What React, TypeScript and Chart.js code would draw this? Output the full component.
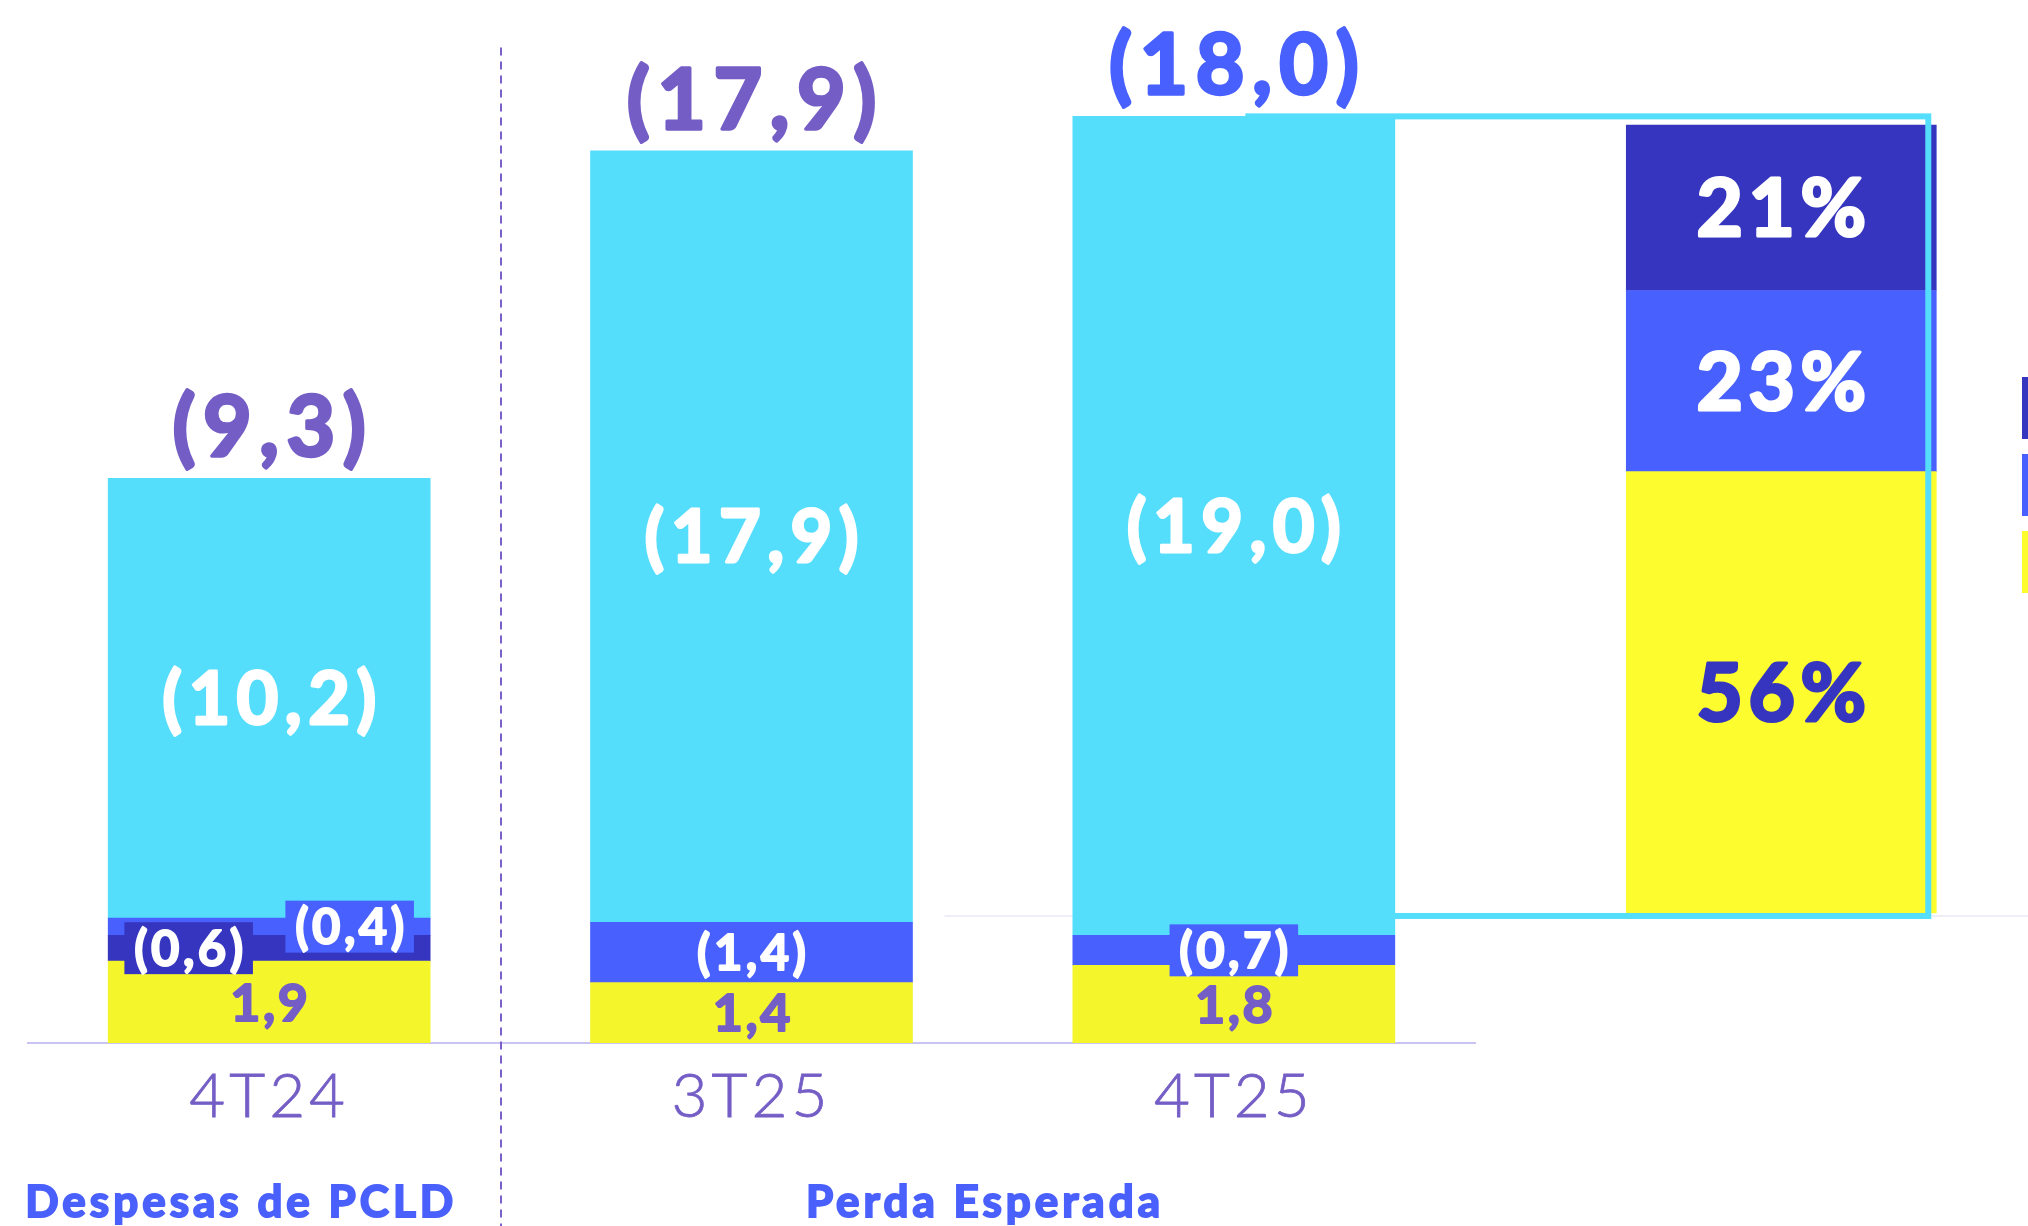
import React, { useEffect, useRef } from 'react';
import { Chart, registerables } from 'chart.js';

Chart.register(...registerables);

// ---------------- data ----------------
const categories = ['4T24', '3T25', '4T25'];
const yellowValues: (number | null)[] = [1.9, 1.4, 1.8];
const darkBlueValues: (number | null)[] = [-0.6, null, null];
const blueValues: (number | null)[] = [-0.4, -1.4, -0.7];
const cyanValues: (number | null)[] = [-10.2, -17.9, -19.0];
const totalValues = [-9.3, -17.9, -18.0];
const groupLabels = ['Despesas de PCLD', 'Perda Esperada'];
const mixSegments = ['yellow', 'blue', 'dark'];
const mixValues = [56, 23, 21];

// ---------------- layout / style config ----------------
const W = 2028;
const H = 1226;
const groupCenters = [-0.058, 1.484];
const mixPosition = 3.135;
const dividerPosition = 0.48;
const dividerTop = 23.1;
const faintLineStart = 1.4;
const CAP = 0.7165;
const LABEL_WEIGHT = 700;

const COLORS = {
  cyan: '#55DDFC',
  blue: '#4860FE',
  dark: '#3535BF',
  yellow: '#F5F52B',
  yellowMix: '#FCFC2F',
  purple: '#745EC6',
  groupBlue: '#4A60FC',
  axis: '#C8C4F4',
  faint: '#EFEEF8',
  divider: '#7A60C9',
  white: '#FFFFFF',
};
const totalColors = [COLORS.purple, COLORS.purple, COLORS.blue];

const mainDefs = [
  { id: 'yellow', values: yellowValues, color: COLORS.yellow, text: COLORS.purple, size: 52, spacing: 0.05 },
  { id: 'dark', values: darkBlueValues, color: COLORS.dark, text: COLORS.white, size: 49, spacing: 0.07 },
  { id: 'blue', values: blueValues, color: COLORS.blue, text: COLORS.white, size: 49, spacing: 0.07 },
  { id: 'cyan', values: cyanValues, color: COLORS.cyan, text: COLORS.white, size: 72, spacing: 0.09 },
];
const mixStyle: Record<string, { color: string; text: string }> = {
  yellow: { color: COLORS.yellowMix, text: COLORS.dark },
  blue: { color: COLORS.blue, text: COLORS.white },
  dark: { color: COLORS.dark, text: COLORS.white },
};

const fmt = (v: number) => {
  const s = Math.abs(v).toFixed(1).replace('.', ',');
  return v < 0 ? `(${s})` : s;
};

function setFont(ctx: CanvasRenderingContext2D, size: number, spacing: number) {
  const ls = size * spacing;
  ctx.font = `${LABEL_WEIGHT} ${size}px Lato`;
  (ctx as any).letterSpacing = `${ls}px`;
  return ls;
}

function drawLabel(ctx: CanvasRenderingContext2D, text: string, cx: number, cy: number, size: number, color: string, spacing: number) {
  ctx.save();
  const ls = setFont(ctx, size, spacing);
  ctx.fillStyle = color;
  ctx.strokeStyle = color;
  ctx.lineWidth = size * 0.04;
  ctx.lineJoin = 'round';
  ctx.textAlign = 'center';
  ctx.textBaseline = 'alphabetic';
  const x = cx + ls / 2;
  const y = cy + (size * CAP) / 2;
  ctx.fillText(text, x, y);
  ctx.strokeText(text, x, y);
  ctx.restore();
}

function textWidth(ctx: CanvasRenderingContext2D, text: string, size: number, spacing: number) {
  ctx.save();
  const ls = setFont(ctx, size, spacing);
  const w = ctx.measureText(text).width - ls + size * 0.04;
  ctx.restore();
  return w;
}

const axisTextPlugin = {
  id: 'axisText',
  beforeDraw(chart: any) {
    (chart.ctx as any).letterSpacing = '4px';
  },
  afterDraw(chart: any) {
    const ctx = chart.ctx as CanvasRenderingContext2D;
    (ctx as any).letterSpacing = '0px';
    // legend swatches (cut by the right edge, as in the reference)
    const legendColors = [COLORS.dark, COLORS.blue, COLORS.yellowMix];
    legendColors.forEach((c, k) => {
      ctx.fillStyle = c;
      ctx.fillRect(2022, 377 + k * 77, 62, 62);
    });
  },
};

const decorPlugin = {
  id: 'decor',
  beforeDatasetsDraw(chart: any) {
    const ctx = chart.ctx as CanvasRenderingContext2D;
    const x = chart.scales.x;
    const y = chart.scales.y;
    const y2 = chart.scales.y2;
    ctx.save();
    (ctx as any).letterSpacing = '0px';
    // faint baseline of the composition bar
    ctx.strokeStyle = COLORS.faint;
    ctx.lineWidth = 2;
    const fy = y2.getPixelForValue(0) + 3;
    ctx.beginPath();
    ctx.moveTo(x.getPixelForValue(faintLineStart), fy);
    ctx.lineTo(chart.width, fy);
    ctx.stroke();
    // dashed divider between groups
    const dx = Math.round(x.getPixelForValue(dividerPosition));
    ctx.strokeStyle = COLORS.divider;
    ctx.lineWidth = 2;
    ctx.setLineDash([8, 6]);
    ctx.beginPath();
    ctx.moveTo(dx, y.getPixelForValue(dividerTop));
    ctx.lineTo(dx, chart.height);
    ctx.stroke();
    ctx.restore();
  },
  afterDatasetsDraw(chart: any) {
    const ctx = chart.ctx as CanvasRenderingContext2D;
    const datasets = chart.data.datasets;
    const y2 = chart.scales.y2;
    const mainIdx = datasets.map((d: any, i: number) => (d.group === 'main' ? i : -1)).filter((i: number) => i >= 0);
    const mixIdx = datasets.map((d: any, i: number) => (d.group === 'mix' ? i : -1)).filter((i: number) => i >= 0);

    // outline linking 4T25 to composition bar
    const cyanMeta = chart.getDatasetMeta(mainIdx[mainIdx.length - 1]);
    const lastBar = cyanMeta.data[cyanMeta.data.length - 1];
    const mixMeta = chart.getDatasetMeta(mixIdx[0]);
    const mixBar = mixMeta.data[0];
    if (lastBar && mixBar) {
      const l = lastBar.x + lastBar.width * 0.045;
      const t = lastBar.y;
      const r = mixBar.x + mixBar.width / 2 - 8;
      const b = y2.getPixelForValue(0) + 3;
      ctx.save();
      ctx.strokeStyle = COLORS.cyan;
      ctx.lineWidth = 6;
      ctx.strokeRect(l, t, r - l, b - t);
      ctx.restore();
    }

    // segment labels
    type Item = { text: string; cx: number; cy: number; size: number; spacing: number; color: string; bg: string; boxed: boolean; idx: number; w: number };
    const items: Item[] = [];
    mainIdx.forEach((di: number) => {
      const ds = datasets[di];
      const meta = chart.getDatasetMeta(di);
      meta.data.forEach((el: any, j: number) => {
        const raw = ds.data[j];
        const h = Math.abs(el.base - el.y);
        const boxH = ds.labelSize * 1.06;
        items.push({
          text: fmt(raw.v),
          cx: el.x,
          cy: (el.y + el.base) / 2,
          size: ds.labelSize,
          spacing: ds.labelSpacing,
          color: ds.labelColor,
          bg: ds.backgroundColor,
          boxed: h < boxH,
          idx: raw.x,
          w: el.width,
        });
      });
    });
    // spread boxed labels that share the same bar
    categories.forEach((_, i) => {
      const boxed = items.filter((it) => it.boxed && it.idx === i);
      if (boxed.length >= 2) {
        boxed.forEach((it, k) => {
          it.cx += (k === 0 ? -1 : 1) * it.w * 0.25;
        });
      }
    });
    items.forEach((it) => {
      if (it.boxed) {
        const tw = textWidth(ctx, it.text, it.size, it.spacing);
        const bw = tw + it.size * 0.36;
        const bh = it.size * 1.06;
        ctx.fillStyle = it.bg;
        ctx.fillRect(it.cx - bw / 2, it.cy - bh / 2, bw, bh);
      }
    });
    items.forEach((it) => drawLabel(ctx, it.text, it.cx, it.cy, it.size, it.color, it.spacing));

    // totals above bars
    categories.forEach((_, i) => {
      const el = cyanMeta.data[i];
      if (!el) return;
      const size = 84;
      drawLabel(ctx, fmt(totalValues[i]), el.x, el.y - 22 - (size * CAP) / 2, size, totalColors[i], 0.09);
    });

    // composition labels
    mixIdx.forEach((di: number) => {
      const ds = datasets[di];
      const el = chart.getDatasetMeta(di).data[0];
      if (!el) return;
      drawLabel(ctx, `${ds.data[0].v}%`, el.x, (el.y + el.base) / 2, 80, ds.labelColor, 0.07);
    });
  },
};

function buildConfig(): any {
  const datasets: any[] = [];
  mainDefs.forEach((d) => {
    datasets.push({
      type: 'bar',
      label: d.id,
      group: 'main',
      data: d.values
        .map((v, i) => (v == null ? null : { x: i, y: Math.abs(v), v }))
        .filter((p) => p !== null),
      backgroundColor: d.color,
      borderWidth: 0,
      barThickness: 322,
      grouped: false,
      stack: 'main',
      xAxisID: 'x',
      yAxisID: 'y',
      labelSize: d.size,
      labelSpacing: d.spacing,
      labelColor: d.text,
    });
  });
  mixSegments.forEach((seg, k) => {
    datasets.push({
      type: 'bar',
      label: 'mix-' + seg,
      group: 'mix',
      data: [{ x: mixPosition, y: mixValues[k], v: mixValues[k] }],
      backgroundColor: mixStyle[seg].color,
      borderWidth: 0,
      barThickness: 310,
      grouped: false,
      stack: 'mix',
      xAxisID: 'x',
      yAxisID: 'y2',
      clip: false,
      labelColor: mixStyle[seg].text,
    });
  });

  return {
    type: 'bar',
    data: { datasets },
    options: {
      responsive: false,
      animation: false,
      devicePixelRatio: 1,
      events: [],
      layout: { padding: { left: 28, right: 553, top: 0, bottom: 0 } },
      plugins: {
        legend: { display: false },
        tooltip: { enabled: false },
        title: { display: false },
      },
      scales: {
        x: {
          type: 'linear',
          position: 'bottom',
          weight: 0,
          min: -0.5,
          max: 2.5,
          offset: false,
          grid: { display: false, drawTicks: false },
          border: { display: true, color: COLORS.axis, width: 2 },
          ticks: {
            autoSkip: false,
            maxRotation: 0,
            minRotation: 0,
            padding: 17,
            color: COLORS.purple,
            font: { family: 'Lato', size: 62, weight: '300' },
            textStrokeColor: COLORS.purple,
            textStrokeWidth: 0.8,
            callback: (_v: any, i: number) => categories[i],
          },
          afterBuildTicks: (axis: any) => {
            axis.ticks = categories.map((_, i) => ({ value: i }));
          },
          afterFit: (axis: any) => {
            axis.height = 120;
          },
        },
        xg: {
          type: 'linear',
          axis: 'x',
          position: 'bottom',
          weight: 1,
          min: -0.5,
          max: 2.5,
          offset: false,
          grid: { display: false, drawTicks: false },
          border: { display: false },
          ticks: {
            autoSkip: false,
            maxRotation: 0,
            minRotation: 0,
            padding: 13,
            color: COLORS.groupBlue,
            font: { family: 'Lato', size: 44, weight: 'bold' },
            textStrokeColor: COLORS.groupBlue,
            textStrokeWidth: 2,
            callback: (_v: any, i: number) => groupLabels[i],
          },
          afterBuildTicks: (axis: any) => {
            axis.ticks = groupCenters.map((v) => ({ value: v }));
          },
          afterFit: (axis: any) => {
            axis.height = 63;
          },
        },
        y: { display: false, stacked: true, min: 0, max: 24.2 },
        y2: { display: false, stacked: true, min: -16.5, max: 115.86 },
      },
    },
    plugins: [axisTextPlugin, decorPlugin],
  };
}

export default function App() {
  const ref = useRef<HTMLCanvasElement>(null);
  useEffect(() => {
    if (!ref.current) return;
    const chart = new Chart(ref.current, buildConfig());
    return () => chart.destroy();
  }, []);
  return (
    <div style={{ position: 'fixed', left: 0, top: 0, width: W, height: H, background: '#fff', overflow: 'hidden' }}>
      <canvas ref={ref} width={W} height={H} style={{ display: 'block', width: W, height: H }} />
    </div>
  );
}
